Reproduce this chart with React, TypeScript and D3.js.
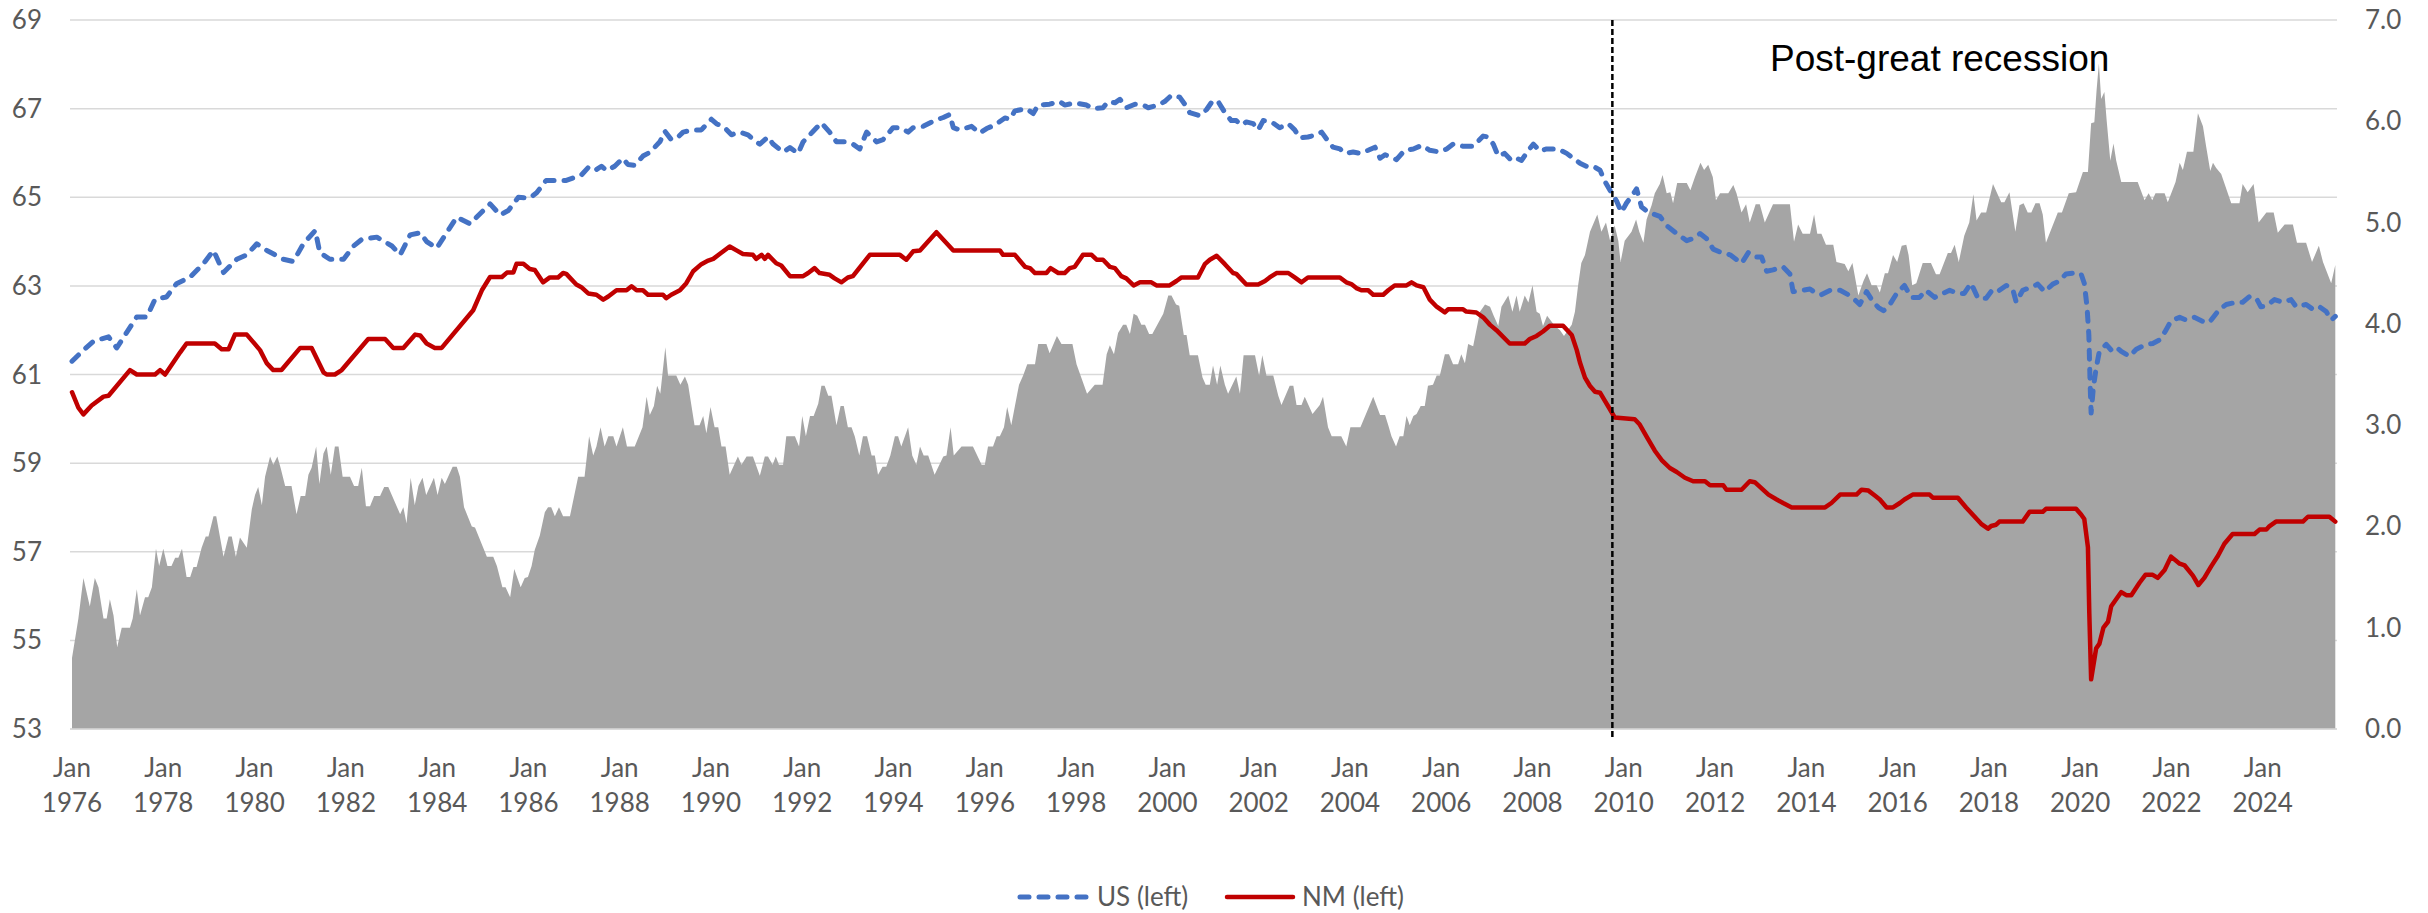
import React from 'react';
import * as d3 from 'd3';

/* Participation rates, US vs NM (left axis) with the gap as an area (right axis).
 * Points are [decimal year, value] read off the monthly series. */

const W = 2428;
const H = 913;
const params = {
  plotLeft: 70,
  plotRight: 2337,
  plotTop: 20,
  plotBottom: 729,
  firstX: 72,
  lastX: 2335,
};

const leftTicks = [53, 55, 57, 59, 61, 63, 65, 67, 69];
const rightTicks = [0, 1, 2, 3, 4, 5, 6, 7];
const yearTicks = d3.range(1976, 2025, 2);
const startYear = 1976;
const endYear = 2025 + 7 / 12; // Aug 2025
const recessionEnd = 2009.75;
const annotation = 'Post-great recession';

const usSeries: [number, number][] = [
  [1976.0, 61.3], [1976.25, 61.55], [1976.47, 61.75], [1976.8, 61.85], [1976.98, 61.6], [1977.2, 61.95],
  [1977.42, 62.3], [1977.64, 62.3], [1977.82, 62.7], [1978.07, 62.75], [1978.29, 63.05], [1978.59, 63.2],
  [1978.88, 63.5], [1979.1, 63.8], [1979.32, 63.3], [1979.61, 63.6], [1979.83, 63.7], [1980.05, 63.95],
  [1980.27, 63.8], [1980.63, 63.6], [1980.85, 63.55], [1981.07, 63.95], [1981.33, 64.25], [1981.43, 63.75],
  [1981.65, 63.6], [1981.95, 63.6], [1982.17, 63.9], [1982.35, 64.05], [1982.68, 64.1], [1983.01, 63.9],
  [1983.19, 63.7], [1983.41, 64.15], [1983.63, 64.2], [1983.77, 64.0], [1983.99, 63.85], [1984.21, 64.2],
  [1984.43, 64.55], [1984.72, 64.4], [1985.01, 64.7], [1985.16, 64.85], [1985.38, 64.6], [1985.56, 64.7],
  [1985.78, 65.0], [1986.03, 64.98], [1986.18, 65.1], [1986.39, 65.38], [1986.83, 65.38], [1987.02, 65.45],
  [1987.16, 65.5], [1987.31, 65.67], [1987.45, 65.6], [1987.6, 65.7], [1987.72, 65.6], [1987.89, 65.7],
  [1988.07, 65.88], [1988.18, 65.74], [1988.33, 65.72], [1988.51, 65.93], [1988.62, 65.99], [1988.73, 66.09],
  [1988.88, 66.25], [1988.99, 66.49], [1989.13, 66.3], [1989.28, 66.36], [1989.39, 66.47], [1989.61, 66.52],
  [1989.79, 66.52], [1990.01, 66.76], [1990.12, 66.66], [1990.3, 66.57], [1990.45, 66.41], [1990.63, 66.47],
  [1990.81, 66.41], [1990.96, 66.27], [1991.07, 66.2], [1991.25, 66.36], [1991.36, 66.2], [1991.58, 66.02],
  [1991.73, 66.12], [1991.91, 65.99], [1992.02, 66.25], [1992.24, 66.49], [1992.42, 66.68], [1992.6, 66.47],
  [1992.75, 66.25], [1992.93, 66.25], [1993.11, 66.2], [1993.26, 66.09], [1993.41, 66.47], [1993.63, 66.25],
  [1993.77, 66.3], [1993.99, 66.57], [1994.14, 66.57], [1994.32, 66.47], [1994.43, 66.57], [1994.65, 66.6],
  [1994.9, 66.73], [1995.09, 66.8], [1995.23, 66.87], [1995.31, 66.57], [1995.45, 66.52], [1995.71, 66.6],
  [1995.89, 66.45], [1996.04, 66.55], [1996.22, 66.63], [1996.44, 66.79], [1996.55, 66.76], [1996.66, 66.95],
  [1996.91, 67.0], [1997.06, 66.89], [1997.17, 67.08], [1997.42, 67.1], [1997.64, 67.16], [1997.75, 67.08],
  [1997.97, 67.13], [1998.23, 67.08], [1998.37, 67.0], [1998.59, 67.02], [1998.7, 67.16], [1998.85, 67.13],
  [1998.96, 67.21], [1999.1, 67.02], [1999.29, 67.1], [1999.47, 67.08], [1999.58, 67.02], [1999.8, 67.08],
  [1999.94, 67.16], [2000.09, 67.3], [2000.27, 67.26], [2000.38, 67.1], [2000.49, 66.91], [2000.71, 66.84],
  [2000.86, 66.98], [2001.0, 67.19], [2001.13, 67.13], [2001.26, 66.91], [2001.4, 66.73], [2001.51, 66.73],
  [2001.62, 66.63], [2001.73, 66.7], [2001.88, 66.66], [2001.99, 66.52], [2002.1, 66.73], [2002.28, 66.7],
  [2002.46, 66.57], [2002.65, 66.66], [2002.79, 66.52], [2002.9, 66.34], [2003.08, 66.36], [2003.27, 66.41],
  [2003.38, 66.47], [2003.52, 66.27], [2003.63, 66.13], [2003.78, 66.09], [2003.89, 65.99], [2004.07, 66.02],
  [2004.22, 65.99], [2004.4, 66.06], [2004.55, 66.13], [2004.66, 65.88], [2004.77, 65.96], [2005.02, 65.85],
  [2005.2, 66.06], [2005.39, 66.09], [2005.57, 66.17], [2005.75, 66.06], [2005.97, 66.02], [2006.12, 66.09],
  [2006.26, 66.2], [2006.48, 66.15], [2006.7, 66.15], [2006.92, 66.38], [2007.03, 66.36], [2007.14, 66.2],
  [2007.25, 65.93], [2007.39, 65.99], [2007.54, 65.83], [2007.65, 65.88], [2007.76, 65.83], [2007.91, 66.06],
  [2008.02, 66.2], [2008.16, 66.04], [2008.31, 66.09], [2008.56, 66.09], [2008.75, 65.99], [2008.89, 65.88],
  [2009.04, 65.77], [2009.18, 65.7], [2009.33, 65.7], [2009.48, 65.61], [2009.59, 65.35], [2009.73, 65.1],
  [2009.84, 64.92], [2009.95, 64.66], [2010.06, 64.87], [2010.21, 65.08], [2010.28, 65.19], [2010.39, 64.78],
  [2010.54, 64.66], [2010.79, 64.57], [2010.94, 64.36], [2011.16, 64.18], [2011.38, 64.02], [2011.52, 64.07],
  [2011.67, 64.18], [2011.81, 64.07], [2011.96, 63.83], [2012.14, 63.75], [2012.33, 63.7], [2012.58, 63.51],
  [2012.73, 63.75], [2012.87, 63.65], [2013.02, 63.65], [2013.13, 63.33], [2013.27, 63.36], [2013.49, 63.43],
  [2013.64, 63.27], [2013.71, 62.87], [2013.93, 62.9], [2014.08, 62.93], [2014.19, 62.85], [2014.33, 62.8],
  [2014.52, 62.9], [2014.74, 62.9], [2014.92, 62.8], [2015.06, 62.69], [2015.17, 62.58], [2015.32, 62.87],
  [2015.47, 62.63], [2015.58, 62.51], [2015.69, 62.44], [2015.83, 62.58], [2015.98, 62.83], [2016.15, 63.01],
  [2016.3, 62.74], [2016.48, 62.74], [2016.62, 62.9], [2016.81, 62.74], [2016.99, 62.83], [2017.14, 62.9],
  [2017.32, 62.83], [2017.46, 62.83], [2017.61, 63.06], [2017.76, 62.72], [2017.94, 62.72], [2018.09, 62.93],
  [2018.23, 62.9], [2018.38, 63.01], [2018.52, 62.93], [2018.6, 62.63], [2018.74, 62.9], [2018.93, 62.97],
  [2019.07, 63.04], [2019.22, 62.87], [2019.4, 63.04], [2019.55, 63.11], [2019.69, 63.27], [2019.87, 63.29],
  [2020.02, 63.27], [2020.09, 63.06], [2020.15, 62.53], [2020.19, 61.89], [2020.22, 60.72], [2020.24, 60.13],
  [2020.29, 60.72], [2020.35, 61.14], [2020.42, 61.52], [2020.57, 61.68], [2020.68, 61.55], [2020.79, 61.62],
  [2020.9, 61.52], [2021.08, 61.41], [2021.23, 61.57], [2021.45, 61.68], [2021.59, 61.7], [2021.74, 61.78],
  [2021.88, 62.0], [2021.99, 62.21], [2022.18, 62.29], [2022.32, 62.23], [2022.5, 62.29], [2022.76, 62.16],
  [2022.87, 62.23], [2023.05, 62.47], [2023.2, 62.58], [2023.42, 62.63], [2023.56, 62.63], [2023.71, 62.76],
  [2023.86, 62.72], [2023.96, 62.53], [2024.08, 62.55], [2024.26, 62.69], [2024.44, 62.63], [2024.62, 62.69],
  [2024.73, 62.53], [2024.95, 62.58], [2025.1, 62.47], [2025.24, 62.53], [2025.39, 62.42], [2025.5, 62.23],
  [2025.59, 62.31],
];

const nmSeries: [number, number][] = [
  [1976.0, 60.6], [1976.14, 60.25], [1976.25, 60.1], [1976.43, 60.3], [1976.69, 60.5], [1976.8, 60.52],
  [1977.27, 61.1], [1977.42, 61.0], [1977.82, 61.0], [1977.93, 61.1], [1978.04, 61.0], [1978.37, 61.5],
  [1978.51, 61.7], [1979.13, 61.7], [1979.28, 61.57], [1979.43, 61.57], [1979.57, 61.9], [1979.83, 61.9],
  [1980.12, 61.55], [1980.27, 61.25], [1980.41, 61.1], [1980.59, 61.1], [1981.0, 61.6], [1981.25, 61.6],
  [1981.51, 61.05], [1981.58, 61.0], [1981.76, 61.0], [1981.91, 61.1], [1982.49, 61.8], [1982.86, 61.8],
  [1983.04, 61.6], [1983.26, 61.6], [1983.52, 61.9], [1983.63, 61.88], [1983.77, 61.7], [1983.95, 61.6],
  [1984.1, 61.6], [1984.79, 62.45], [1984.98, 62.9], [1985.16, 63.2], [1985.42, 63.2], [1985.53, 63.3],
  [1985.67, 63.3], [1985.74, 63.5], [1985.89, 63.5], [1986.03, 63.38], [1986.14, 63.36], [1986.32, 63.08],
  [1986.47, 63.19], [1986.65, 63.19], [1986.76, 63.29], [1986.83, 63.27], [1987.05, 63.03], [1987.16, 62.97],
  [1987.31, 62.83], [1987.49, 62.8], [1987.64, 62.69], [1987.75, 62.76], [1987.93, 62.9], [1988.15, 62.9],
  [1988.26, 62.99], [1988.37, 62.9], [1988.51, 62.9], [1988.62, 62.8], [1988.95, 62.8], [1989.02, 62.72],
  [1989.13, 62.8], [1989.32, 62.9], [1989.46, 63.06], [1989.61, 63.33], [1989.79, 63.49], [1989.94, 63.57],
  [1990.05, 63.61], [1990.19, 63.72], [1990.41, 63.89], [1990.56, 63.8], [1990.7, 63.72], [1990.92, 63.7],
  [1990.99, 63.61], [1991.11, 63.7], [1991.18, 63.61], [1991.25, 63.7], [1991.43, 63.51], [1991.54, 63.46],
  [1991.73, 63.22], [1992.02, 63.22], [1992.13, 63.29], [1992.27, 63.4], [1992.38, 63.29], [1992.6, 63.25],
  [1992.71, 63.17], [1992.86, 63.08], [1993.0, 63.19], [1993.11, 63.22], [1993.48, 63.7], [1994.14, 63.7],
  [1994.28, 63.59], [1994.43, 63.78], [1994.58, 63.8], [1994.94, 64.21], [1995.31, 63.8], [1996.33, 63.8],
  [1996.4, 63.7], [1996.66, 63.7], [1996.88, 63.43], [1996.99, 63.4], [1997.1, 63.29], [1997.35, 63.29],
  [1997.44, 63.4], [1997.61, 63.29], [1997.75, 63.29], [1997.86, 63.4], [1997.97, 63.43], [1998.15, 63.7],
  [1998.34, 63.7], [1998.45, 63.59], [1998.59, 63.59], [1998.74, 63.43], [1998.85, 63.4], [1998.99, 63.22],
  [1999.1, 63.17], [1999.26, 63.01], [1999.4, 63.08], [1999.65, 63.08], [1999.76, 63.01], [2000.05, 63.01],
  [2000.2, 63.11], [2000.31, 63.19], [2000.67, 63.19], [2000.82, 63.49], [2000.93, 63.59], [2001.08, 63.68],
  [2001.26, 63.49], [2001.44, 63.29], [2001.51, 63.27], [2001.73, 63.03], [2001.99, 63.03], [2002.14, 63.11],
  [2002.24, 63.19], [2002.39, 63.29], [2002.65, 63.29], [2002.79, 63.19], [2002.94, 63.08], [2003.08, 63.19],
  [2003.78, 63.19], [2003.92, 63.08], [2004.03, 63.04], [2004.14, 62.95], [2004.25, 62.9], [2004.4, 62.9],
  [2004.51, 62.8], [2004.73, 62.8], [2004.84, 62.9], [2004.98, 63.01], [2005.24, 63.01], [2005.35, 63.08],
  [2005.46, 63.01], [2005.61, 62.97], [2005.75, 62.69], [2005.9, 62.53], [2006.08, 62.4], [2006.15, 62.47],
  [2006.48, 62.47], [2006.55, 62.42], [2006.77, 62.4], [2006.92, 62.29], [2007.07, 62.12], [2007.21, 62.0],
  [2007.5, 61.7], [2007.83, 61.7], [2007.94, 61.8], [2008.09, 61.87], [2008.23, 61.97], [2008.38, 62.1],
  [2008.67, 62.1], [2008.86, 61.89], [2008.97, 61.55], [2009.04, 61.27], [2009.15, 60.93], [2009.26, 60.74],
  [2009.37, 60.61], [2009.48, 60.59], [2009.59, 60.4], [2009.7, 60.21], [2009.8, 60.03], [2010.24, 59.99],
  [2010.35, 59.87], [2010.5, 59.6], [2010.68, 59.28], [2010.83, 59.07], [2011.01, 58.89], [2011.16, 58.8],
  [2011.34, 58.67], [2011.52, 58.59], [2011.78, 58.59], [2011.89, 58.5], [2012.18, 58.5], [2012.25, 58.4],
  [2012.58, 58.4], [2012.76, 58.59], [2012.87, 58.57], [2013.02, 58.43], [2013.17, 58.29], [2013.35, 58.18],
  [2013.49, 58.1], [2013.68, 58.0], [2014.41, 58.0], [2014.55, 58.1], [2014.74, 58.29], [2015.1, 58.29],
  [2015.21, 58.4], [2015.36, 58.38], [2015.5, 58.27], [2015.61, 58.18], [2015.76, 58.0], [2015.9, 58.0],
  [2016.05, 58.1], [2016.15, 58.18], [2016.33, 58.29], [2016.7, 58.29], [2016.77, 58.22], [2017.32, 58.22],
  [2017.5, 58.0], [2017.83, 57.63], [2017.98, 57.52], [2018.05, 57.58], [2018.16, 57.61], [2018.23, 57.68],
  [2018.74, 57.68], [2018.89, 57.9], [2019.18, 57.9], [2019.25, 57.97], [2019.91, 57.97], [2020.02, 57.84],
  [2020.09, 57.74], [2020.17, 57.1], [2020.2, 55.61], [2020.24, 54.12], [2020.35, 54.82], [2020.42, 54.92],
  [2020.51, 55.29], [2020.61, 55.42], [2020.68, 55.77], [2020.9, 56.09], [2021.01, 56.02], [2021.12, 56.02],
  [2021.3, 56.3], [2021.43, 56.48], [2021.59, 56.48], [2021.7, 56.41], [2021.85, 56.59], [2021.99, 56.89],
  [2022.18, 56.73], [2022.29, 56.69], [2022.47, 56.46], [2022.59, 56.25], [2022.72, 56.41], [2022.87, 56.67],
  [2023.02, 56.91], [2023.16, 57.18], [2023.34, 57.4], [2023.82, 57.4], [2023.93, 57.5], [2024.08, 57.5],
  [2024.15, 57.58], [2024.29, 57.68], [2024.88, 57.68], [2024.99, 57.79], [2025.46, 57.79], [2025.59, 57.68],
];

// gap series, right axis, drawn as grey area
const gapSeries: [number, number][] = [
  [1976.0, 0.7], [1976.14, 1.09], [1976.25, 1.49], [1976.39, 1.21], [1976.5, 1.49], [1976.58, 1.4],
  [1976.69, 1.09], [1976.76, 1.09], [1976.83, 1.28], [1976.91, 1.12], [1976.99, 0.81], [1977.09, 1.0],
  [1977.27, 1.0], [1977.33, 1.09], [1977.42, 1.38], [1977.49, 1.12], [1977.6, 1.3], [1977.67, 1.3],
  [1977.75, 1.4], [1977.84, 1.78], [1977.91, 1.61], [1978.0, 1.78], [1978.09, 1.61], [1978.18, 1.61],
  [1978.26, 1.69], [1978.33, 1.69], [1978.41, 1.78], [1978.51, 1.5], [1978.59, 1.5], [1978.66, 1.6],
  [1978.73, 1.6], [1978.84, 1.79], [1978.93, 1.9], [1978.99, 1.9], [1979.1, 2.1], [1979.16, 2.1],
  [1979.32, 1.7], [1979.43, 1.9], [1979.5, 1.9], [1979.59, 1.7], [1979.68, 1.89], [1979.83, 1.79],
  [1979.94, 2.17], [1980.01, 2.31], [1980.08, 2.39], [1980.16, 2.21], [1980.23, 2.49], [1980.34, 2.69],
  [1980.41, 2.61], [1980.5, 2.69], [1980.57, 2.58], [1980.67, 2.4], [1980.81, 2.4], [1980.92, 2.12],
  [1981.01, 2.3], [1981.11, 2.3], [1981.18, 2.51], [1981.25, 2.58], [1981.35, 2.79], [1981.42, 2.42],
  [1981.51, 2.72], [1981.58, 2.79], [1981.67, 2.51], [1981.76, 2.79], [1981.84, 2.79], [1981.93, 2.49],
  [1982.09, 2.49], [1982.18, 2.4], [1982.27, 2.4], [1982.35, 2.58], [1982.44, 2.2], [1982.53, 2.2],
  [1982.62, 2.3], [1982.75, 2.3], [1982.84, 2.39], [1982.93, 2.39], [1983.19, 2.12], [1983.26, 2.19],
  [1983.33, 2.03], [1983.42, 2.48], [1983.51, 2.21], [1983.59, 2.4], [1983.68, 2.48], [1983.76, 2.31],
  [1983.85, 2.4], [1983.93, 2.48], [1984.01, 2.31], [1984.1, 2.48], [1984.17, 2.42], [1984.34, 2.59],
  [1984.43, 2.59], [1984.5, 2.49], [1984.59, 2.19], [1984.76, 2.0], [1984.83, 1.99], [1985.09, 1.7],
  [1985.23, 1.7], [1985.31, 1.61], [1985.43, 1.4], [1985.5, 1.4], [1985.6, 1.3], [1985.69, 1.58],
  [1985.83, 1.4], [1985.92, 1.49], [1985.99, 1.5], [1986.07, 1.61], [1986.14, 1.77], [1986.25, 1.91],
  [1986.36, 2.14], [1986.43, 2.19], [1986.5, 2.19], [1986.58, 2.1], [1986.67, 2.19], [1986.76, 2.1],
  [1986.91, 2.1], [1987.09, 2.49], [1987.23, 2.49], [1987.33, 2.89], [1987.42, 2.7], [1987.49, 2.79],
  [1987.58, 2.98], [1987.67, 2.79], [1987.75, 2.89], [1987.86, 2.89], [1987.93, 2.79], [1988.07, 2.98],
  [1988.16, 2.79], [1988.33, 2.79], [1988.5, 2.98], [1988.59, 3.28], [1988.66, 3.1], [1988.75, 3.19],
  [1988.82, 3.39], [1988.89, 3.31], [1989.0, 3.77], [1989.06, 3.49], [1989.24, 3.49], [1989.33, 3.4],
  [1989.43, 3.48], [1989.5, 3.4], [1989.64, 3.0], [1989.75, 3.0], [1989.83, 3.09], [1989.9, 2.92],
  [1989.99, 3.18], [1990.08, 2.98], [1990.16, 2.98], [1990.23, 2.79], [1990.32, 2.79], [1990.41, 2.51],
  [1990.59, 2.69], [1990.67, 2.61], [1990.78, 2.69], [1990.92, 2.69], [1991.07, 2.5], [1991.18, 2.69],
  [1991.25, 2.69], [1991.35, 2.61], [1991.42, 2.69], [1991.49, 2.61], [1991.58, 2.61], [1991.65, 2.89],
  [1991.84, 2.89], [1991.93, 2.79], [1992.0, 3.09], [1992.08, 2.89], [1992.17, 3.09], [1992.25, 3.09],
  [1992.35, 3.21], [1992.42, 3.39], [1992.49, 3.39], [1992.57, 3.29], [1992.64, 3.29], [1992.75, 3.0],
  [1992.84, 3.19], [1992.91, 3.19], [1993.0, 2.98], [1993.08, 2.98], [1993.15, 2.89], [1993.25, 2.7],
  [1993.33, 2.89], [1993.42, 2.89], [1993.52, 2.7], [1993.59, 2.7], [1993.66, 2.51], [1993.76, 2.59],
  [1993.84, 2.59], [1993.93, 2.7], [1994.03, 2.89], [1994.1, 2.89], [1994.17, 2.79], [1994.32, 2.98],
  [1994.41, 2.7], [1994.5, 2.61], [1994.58, 2.79], [1994.66, 2.7], [1994.76, 2.7], [1994.9, 2.51],
  [1995.09, 2.69], [1995.16, 2.7], [1995.25, 2.98], [1995.32, 2.7], [1995.49, 2.79], [1995.74, 2.79],
  [1995.93, 2.61], [1996.0, 2.61], [1996.07, 2.79], [1996.18, 2.79], [1996.26, 2.89], [1996.33, 2.89],
  [1996.42, 2.98], [1996.49, 3.18], [1996.58, 3.0], [1996.66, 3.19], [1996.75, 3.4], [1996.84, 3.49],
  [1996.93, 3.6], [1997.1, 3.6], [1997.17, 3.8], [1997.35, 3.8], [1997.42, 3.71], [1997.58, 3.88],
  [1997.68, 3.8], [1997.92, 3.8], [1998.01, 3.6], [1998.24, 3.31], [1998.41, 3.4], [1998.58, 3.4],
  [1998.67, 3.7], [1998.74, 3.79], [1998.83, 3.7], [1998.92, 3.91], [1999.03, 3.99], [1999.1, 3.99],
  [1999.18, 3.9], [1999.26, 4.1], [1999.34, 4.08], [1999.43, 3.99], [1999.51, 3.99], [1999.6, 3.9],
  [1999.67, 3.9], [1999.91, 4.1], [2000.02, 4.28], [2000.09, 4.28], [2000.19, 4.19], [2000.26, 4.18],
  [2000.36, 3.89], [2000.42, 3.89], [2000.49, 3.69], [2000.67, 3.69], [2000.77, 3.47], [2000.84, 3.4],
  [2000.93, 3.4], [2001.0, 3.59], [2001.09, 3.4], [2001.16, 3.59], [2001.26, 3.4], [2001.33, 3.31],
  [2001.51, 3.48], [2001.59, 3.31], [2001.67, 3.69], [2001.92, 3.69], [2002.01, 3.49], [2002.08, 3.69],
  [2002.17, 3.49], [2002.32, 3.49], [2002.43, 3.29], [2002.5, 3.2], [2002.68, 3.39], [2002.76, 3.39],
  [2002.83, 3.2], [2002.94, 3.2], [2003.01, 3.28], [2003.18, 3.11], [2003.34, 3.2], [2003.41, 3.28],
  [2003.52, 2.98], [2003.6, 2.89], [2003.81, 2.89], [2003.92, 2.79], [2004.01, 2.98], [2004.23, 2.98],
  [2004.51, 3.28], [2004.66, 3.1], [2004.77, 3.1], [2004.84, 3.0], [2004.91, 2.89], [2005.01, 2.79],
  [2005.09, 2.89], [2005.17, 2.89], [2005.24, 3.09], [2005.31, 3.0], [2005.39, 3.09], [2005.46, 3.11],
  [2005.55, 3.19], [2005.64, 3.19], [2005.71, 3.39], [2005.82, 3.4], [2005.9, 3.49], [2005.97, 3.49],
  [2006.08, 3.7], [2006.17, 3.7], [2006.26, 3.6], [2006.37, 3.6], [2006.44, 3.7], [2006.52, 3.61],
  [2006.59, 3.8], [2006.7, 3.78], [2006.85, 4.12], [2006.96, 4.19], [2007.07, 4.17], [2007.15, 4.08],
  [2007.25, 3.98], [2007.32, 4.17], [2007.47, 4.28], [2007.56, 4.12], [2007.65, 4.28], [2007.72, 4.12],
  [2007.83, 4.28], [2007.91, 4.21], [2008.0, 4.38], [2008.09, 4.12], [2008.16, 4.1], [2008.23, 3.98],
  [2008.32, 4.08], [2008.42, 4.02], [2008.49, 3.98], [2008.6, 3.94], [2008.69, 3.88], [2008.78, 3.94],
  [2008.86, 3.99], [2008.93, 4.12], [2009.0, 4.38], [2009.07, 4.6], [2009.15, 4.68], [2009.26, 4.91],
  [2009.42, 5.08], [2009.51, 4.91], [2009.61, 5.0], [2009.7, 4.82], [2009.8, 4.97], [2009.88, 4.82],
  [2009.93, 4.61], [2010.02, 4.82], [2010.17, 4.91], [2010.27, 5.03], [2010.34, 4.91], [2010.43, 4.8],
  [2010.5, 5.03], [2010.61, 5.17], [2010.68, 5.29], [2010.79, 5.38], [2010.85, 5.47], [2010.94, 5.29],
  [2011.02, 5.3], [2011.08, 5.19], [2011.17, 5.39], [2011.38, 5.39], [2011.46, 5.32], [2011.56, 5.45],
  [2011.68, 5.59], [2011.76, 5.52], [2011.85, 5.57], [2011.95, 5.45], [2012.02, 5.22], [2012.11, 5.29],
  [2012.29, 5.29], [2012.4, 5.37], [2012.47, 5.29], [2012.58, 5.1], [2012.68, 5.18], [2012.76, 5.0],
  [2012.89, 5.18], [2012.98, 5.18], [2013.09, 5.0], [2013.27, 5.18], [2013.64, 5.18], [2013.73, 4.81],
  [2013.82, 4.98], [2013.92, 4.89], [2014.08, 4.89], [2014.17, 5.08], [2014.24, 4.89], [2014.33, 4.89],
  [2014.43, 4.78], [2014.59, 4.78], [2014.66, 4.61], [2014.84, 4.59], [2014.92, 4.52], [2015.01, 4.6],
  [2015.14, 4.28], [2015.25, 4.42], [2015.33, 4.5], [2015.43, 4.38], [2015.54, 4.38], [2015.61, 4.31],
  [2015.72, 4.5], [2015.79, 4.5], [2015.9, 4.68], [2015.99, 4.61], [2016.09, 4.77], [2016.19, 4.78],
  [2016.24, 4.68], [2016.32, 4.38], [2016.41, 4.4], [2016.55, 4.6], [2016.73, 4.6], [2016.84, 4.49],
  [2016.92, 4.49], [2017.1, 4.7], [2017.17, 4.7], [2017.25, 4.78], [2017.34, 4.61], [2017.46, 4.87],
  [2017.57, 5.0], [2017.66, 5.28], [2017.73, 5.02], [2017.83, 5.1], [2017.94, 5.1], [2018.09, 5.38],
  [2018.27, 5.2], [2018.34, 5.2], [2018.45, 5.3], [2018.58, 4.91], [2018.67, 5.17], [2018.76, 5.19],
  [2018.85, 5.1], [2018.93, 5.1], [2019.02, 5.19], [2019.11, 5.19], [2019.18, 5.08], [2019.25, 4.8],
  [2019.51, 5.1], [2019.6, 5.1], [2019.75, 5.29], [2019.91, 5.3], [2020.06, 5.5], [2020.17, 5.5],
  [2020.24, 5.98], [2020.31, 5.99], [2020.36, 6.31], [2020.41, 6.57], [2020.46, 6.22], [2020.53, 6.29],
  [2020.58, 6.01], [2020.66, 5.61], [2020.73, 5.78], [2020.79, 5.61], [2020.9, 5.4], [2021.26, 5.4],
  [2021.41, 5.22], [2021.5, 5.29], [2021.58, 5.22], [2021.65, 5.29], [2021.85, 5.29], [2021.92, 5.2],
  [2022.09, 5.4], [2022.18, 5.59], [2022.25, 5.52], [2022.34, 5.7], [2022.48, 5.7], [2022.58, 6.08],
  [2022.69, 5.95], [2022.76, 5.75], [2022.85, 5.51], [2022.91, 5.59], [2022.98, 5.54], [2023.09, 5.48],
  [2023.31, 5.19], [2023.49, 5.19], [2023.56, 5.38], [2023.67, 5.3], [2023.8, 5.38], [2023.91, 5.0],
  [2024.08, 5.1], [2024.24, 5.1], [2024.33, 4.9], [2024.48, 4.98], [2024.66, 4.98], [2024.75, 4.8],
  [2024.95, 4.8], [2025.08, 4.61], [2025.23, 4.77], [2025.32, 4.61], [2025.5, 4.4], [2025.59, 4.58],
];

const axisFont = 'Lato, "Open Sans", sans-serif';
const textColor = '#595959';

export default function App() {
  const x = d3.scaleLinear().domain([startYear, endYear]).range([params.firstX, params.lastX]);
  const yLeft = d3.scaleLinear().domain([53, 69]).range([params.plotBottom, params.plotTop]);
  const yRight = d3.scaleLinear().domain([0, 7]).range([params.plotBottom, params.plotTop]);

  const area = d3.area<[number, number]>()
    .x(d => x(d[0]))
    .y0(yRight(0))
    .y1(d => yRight(d[1]));
  const leftLine = d3.line<[number, number]>()
    .x(d => x(d[0]))
    .y(d => yLeft(d[1]));

  const legendY = 897;

  return (
    <svg width={W} height={H} style={{ position: 'absolute', left: 0, top: 0, background: '#fff' }}>
      <rect width={W} height={H} fill="#fff" />
      <g id="grid">
        {leftTicks.map(t => (
          <line key={t} x1={params.plotLeft} x2={params.plotRight} y1={yLeft(t)} y2={yLeft(t)}
            stroke="#D9D9D9" strokeWidth={1.5} />
        ))}
      </g>
      <path d={area(gapSeries) || ''} fill="#A5A5A5" />
      <line x1={params.plotLeft} x2={params.plotRight} y1={params.plotBottom} y2={params.plotBottom}
        stroke="#D9D9D9" strokeWidth={1.5} />
      <path d={leftLine(usSeries) || ''} fill="none" stroke="#4472C4" strokeWidth={5}
        strokeDasharray="9 10" strokeLinecap="round" strokeLinejoin="round" />
      <path d={leftLine(nmSeries) || ''} fill="none" stroke="#C00000" strokeWidth={4.5}
        strokeLinecap="round" strokeLinejoin="round" />
      <line x1={x(recessionEnd)} x2={x(recessionEnd)} y1={params.plotTop} y2={params.plotBottom + 10}
        stroke="#000" strokeWidth={2.5} strokeDasharray="6 3" />

      <g id="leftAxis" fontFamily={axisFont} fontSize={26} fill={textColor} textAnchor="end">
        {leftTicks.map(t => (
          <text key={t} x={42} y={yLeft(t) + 9}>{t}</text>
        ))}
      </g>
      <g id="rightAxis" fontFamily={axisFont} fontSize={26} fill={textColor}>
        {rightTicks.map(t => (
          <text key={t} x={2365} y={yRight(t) + 9}>{t.toFixed(1)}</text>
        ))}
      </g>
      <g id="xAxis" fontFamily={axisFont} fontSize={26} fill={textColor} textAnchor="middle">
        {yearTicks.map(yr => (
          <g key={yr} transform={`translate(${x(yr)},0)`}>
            <text y={777}>Jan</text>
            <text y={812}>{yr}</text>
          </g>
        ))}
      </g>

      <text x={1770} y={71} fontFamily='"Liberation Sans", Arial, sans-serif' fontSize={37} fill="#000">
        {annotation}
      </text>

      <g id="legend" fontFamily={axisFont} fontSize={26} fill={textColor}>
        <line x1={1020} x2={1088} y1={legendY} y2={legendY} stroke="#4472C4" strokeWidth={5}
          strokeDasharray="9 10" strokeLinecap="round" />
        <text x={1097} y={legendY + 9}>US (left)</text>
        <line x1={1227} x2={1293} y1={legendY} y2={legendY} stroke="#C00000" strokeWidth={4.5}
          strokeLinecap="round" />
        <text x={1302} y={legendY + 9}>NM (left)</text>
      </g>
    </svg>
  );
}
